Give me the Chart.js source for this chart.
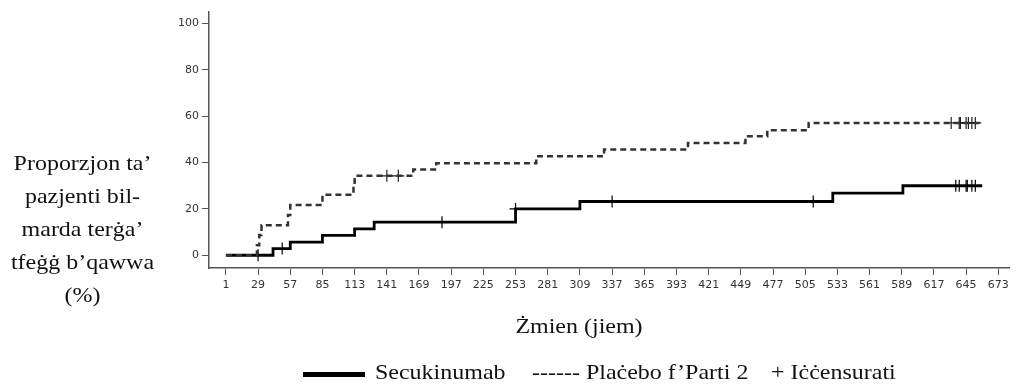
<!DOCTYPE html>
<html>
<head>
<meta charset="utf-8">
<script src="https://cdn.jsdelivr.net/npm/chart.js@4"></script>
<style>
  body { margin: 0; background: #fff; }
  #wrap { position: relative; width: 1017px; height: 385px; overflow: hidden; }
  #chart { position: absolute; left: 0; top: 0; }
  .serif { position: absolute; font-family: "Liberation Serif", "Times New Roman", serif; font-size: 22px; line-height: 33px; color: #111; white-space: nowrap; }
  .wide { transform: scaleX(1.09); }
  #ytitle { left: 0; top: 146px; width: 165px; text-align: center; }
  #xtitle { left: 479px; top: 309px; width: 200px; text-align: center; }
  #legend { top: 355px; left: 0; width: 1017px; height: 33px; }
  #legend span { position: absolute; top: 0; transform: scaleX(1.09); transform-origin: left center; }
  #legline { position: absolute; left: 303px; top: 17px; width: 62px; height: 5px; background: #000; }
</style>
</head>
<body>
<div id="wrap">
  <canvas id="chart" width="1017" height="385"></canvas>
  <div id="ytitle" class="serif wide">Proporzjon ta’<br>pazjenti bil-<br>marda terġa’<br>tfeġġ b’qawwa<br>(%)</div>
  <div id="xtitle" class="serif wide">Żmien (jiem)</div>
  <div id="legend" class="serif">
    <div id="legline"></div>
    <span style="left:375px">Secukinumab</span>
    <span style="left:532px">------ Plaċebo f’Parti 2</span>
    <span style="left:771px">+ Iċċensurati</span>
  </div>
</div>
<script>
// Kaplan-Meier style curves (days vs %)
const secDays   = [1, 42, 57, 85, 113, 130, 253, 309, 529, 590, 659];
const secValues = [0, 2.9, 5.7, 8.6, 11.4, 14.3, 20.0, 23.2, 26.8, 30.0, 30.0];

const plaDays   = [1, 28, 30, 32, 55, 57, 85, 112, 113, 164, 184, 271, 330, 403, 453, 472, 508, 658];
const plaValues = [0, 4.3, 8.7, 13.0, 17.4, 21.7, 26.1, 30.4, 34.3, 37.0, 39.7, 42.7, 45.6, 48.5, 51.4, 54.0, 57.1, 57.1];

// censored observations
const secCensorDays   = [29, 50, 189, 253, 337, 512, 636, 639, 645, 646, 650, 653];
const secCensorValues = [0, 2.9, 14.3, 20.0, 23.2, 23.2, 30.0, 30.0, 30.0, 30.0, 30.0, 30.0];
const plaCensorDays   = [141, 151, 632, 639, 640, 645, 647, 650, 653];
const plaCensorValues = [34.3, 34.3, 57.1, 57.1, 57.1, 57.1, 57.1, 57.1, 57.1];

const xTicks = [1, 29, 57, 85, 113, 141, 169, 197, 225, 253, 281, 309, 337, 365, 393, 421, 449, 477, 505, 533, 561, 589, 617, 645, 673];
const yTicks = [0, 20, 40, 60, 80, 100];

function toPoints(xs, ys) {
  return xs.map(function (x, i) { return { x: x, y: ys[i] }; });
}

const axisColor = '#555';

new Chart(document.getElementById('chart').getContext('2d'), {
  type: 'line',
  data: {
    datasets: [
      {
        data: toPoints(plaDays, plaValues),
        borderColor: '#333',
        borderWidth: 2.5,
        borderDash: [6, 4],
        stepped: true,
        pointRadius: 0,
        fill: false
      },
      {
        data: toPoints(secDays, secValues),
        borderColor: '#000',
        borderWidth: 2.8,
        stepped: true,
        pointRadius: 0,
        fill: false
      },
      {
        data: toPoints(plaCensorDays, plaCensorValues),
        showLine: false,
        pointStyle: 'cross',
        pointRadius: 6,
        pointBorderWidth: 1.2,
        pointBorderColor: '#222'
      },
      {
        data: toPoints(secCensorDays, secCensorValues),
        showLine: false,
        pointStyle: 'cross',
        pointRadius: 6,
        pointBorderWidth: 1.2,
        pointBorderColor: '#000'
      }
    ]
  },
  options: {
    responsive: false,
    animation: false,
    devicePixelRatio: 1,
    layout: { padding: { top: 12, right: 2, bottom: 87, left: 0 } },
    plugins: {
      legend: { display: false },
      tooltip: { enabled: false }
    },
    scales: {
      x: {
        type: 'linear',
        min: -13.7,
        max: 683,
        afterBuildTicks: function (scale) {
          scale.ticks = xTicks.map(function (v) { return { value: v }; });
        },
        afterFit: function (scale) { scale.height = 30; },
        grid: { drawOnChartArea: false, drawTicks: true, tickLength: 7, color: axisColor },
        border: { display: true, color: axisColor, width: 1.5 },
        ticks: {
          autoSkip: false,
          maxRotation: 0,
          padding: 4,
          color: '#333',
          font: { family: 'DejaVu Sans', size: 11 }
        }
      },
      y: {
        min: -5.5,
        max: 105,
        afterBuildTicks: function (scale) {
          scale.ticks = yTicks.map(function (v) { return { value: v }; });
        },
        afterFit: function (scale) { scale.width = 209; },
        grid: { drawOnChartArea: false, drawTicks: true, tickLength: 7, color: axisColor },
        border: { display: true, color: axisColor, width: 1.5 },
        ticks: {
          padding: 3,
          color: '#333',
          font: { family: 'DejaVu Sans', size: 11 }
        }
      }
    }
  }
});
</script>
</body>
</html>
